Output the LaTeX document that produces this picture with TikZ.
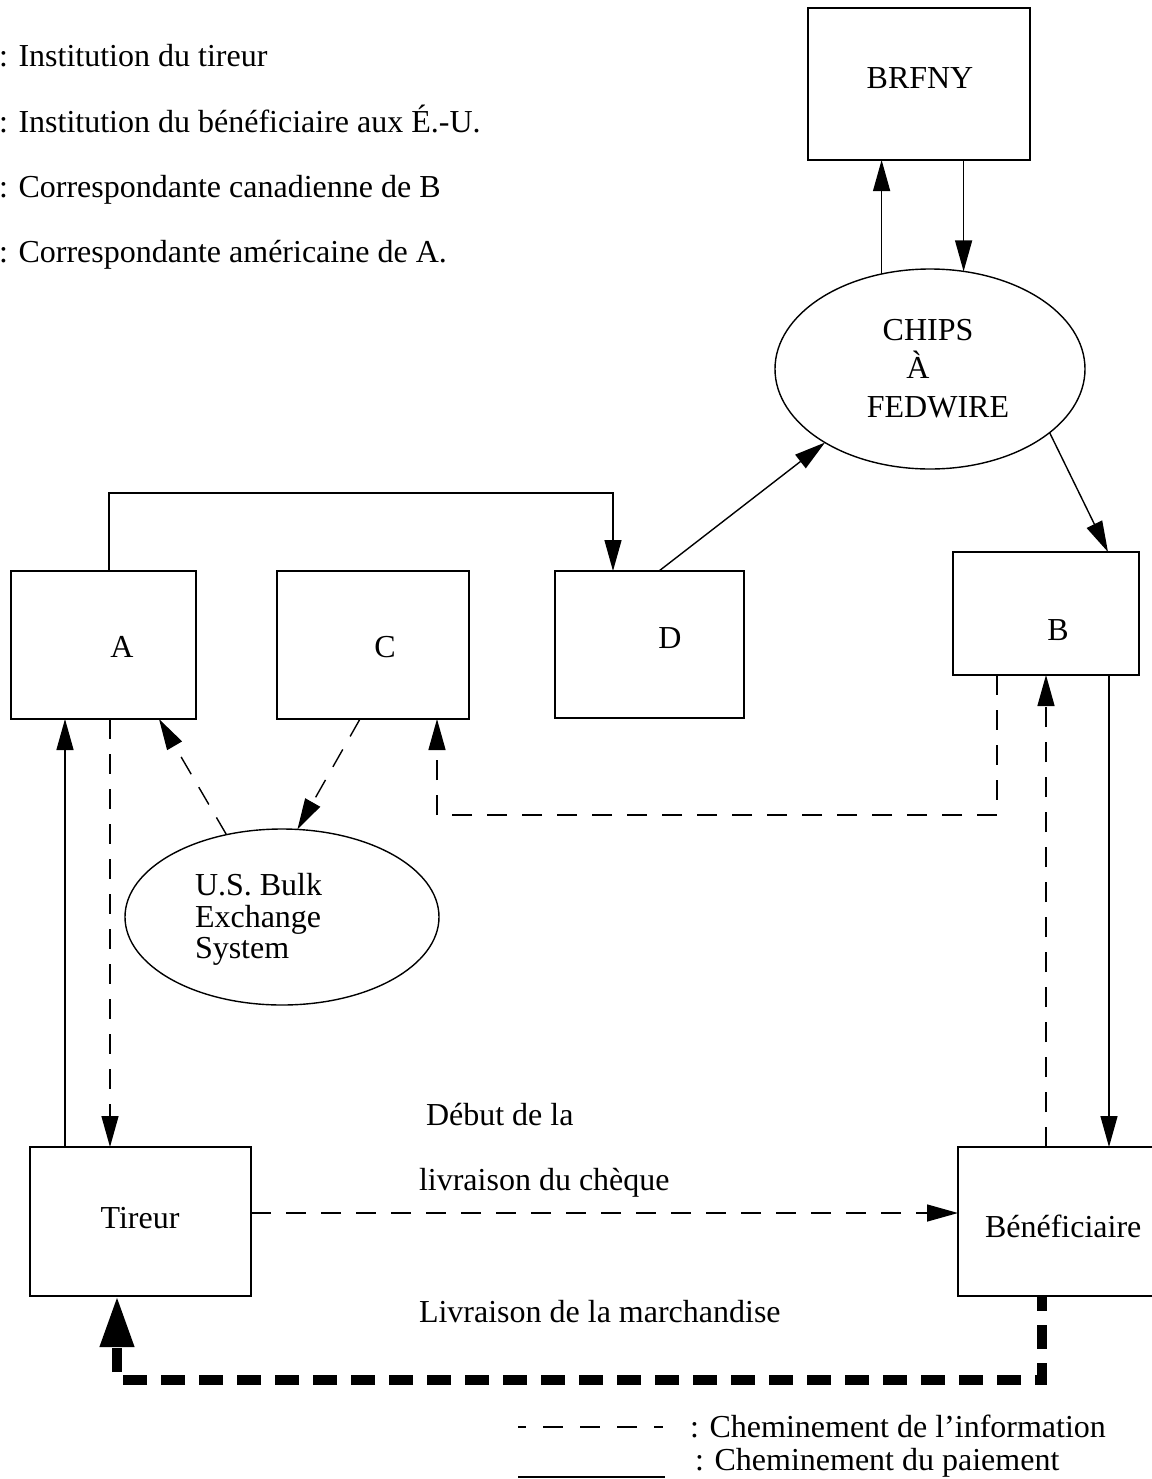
\documentclass[tikz,border=0pt]{standalone}
\usepackage{fontspec}
\setmainfont{Liberation Serif}
\usetikzlibrary{arrows.meta,shapes.geometric,calc}

\begin{document}
\begin{tikzpicture}[x=0.5pt,y=-0.5pt,
  font=\fontsize{16}{19}\selectfont,
  box/.style={draw,line width=0.7pt,rectangle,inner sep=0pt,outer sep=0pt},
  oval/.style={draw,line width=0.7pt,ellipse,inner sep=0pt,outer sep=0pt},
  txt/.style={inner sep=0pt,outer sep=0pt,anchor=base},
  txtl/.style={inner sep=0pt,outer sep=0pt,anchor=base west},
  pay/.style={line width=0.7pt},
  info/.style={line width=0.7pt,dash pattern=on 10pt off 7.5pt},
  tip/.style={-{Triangle[length=15.5pt,width=8.5pt]}},
  goods/.style={line width=5pt,dash pattern=on 12pt off 7pt,dash phase=4.5pt,
                -{Triangle[length=25.5pt,width=16pt]}}
]
\useasboundingbox (0,0) rectangle (1152,1479);

% key of the institutions
\node[txtl] (k1) at (-1,66)  {: Institution du tireur};
\node[txtl] (k2) at (-1,132) {: Institution du bénéficiaire aux É.-U.};
\node[txtl] (k3) at (-1,197) {: Correspondante canadienne de B};
\node[txtl] (k4) at (-1,262) {: Correspondante américaine de A.};

% boxes
\node[box,minimum width=111pt,minimum height=76pt] (BRFNY) at (919,84) {};
\node[txt] (tBRFNY) at (920,88) {BRFNY};
\node[box,minimum width=92.5pt,minimum height=74pt] (A) at (103.5,645) {};
\node[txt] (tA) at (122,657) {A};
\node[box,minimum width=96pt,minimum height=74pt] (C) at (373,645) {};
\node[txt] (tC) at (385,657) {C};
\node[box,minimum width=94.5pt,minimum height=73.5pt] (D) at (649.5,644.5) {};
\node[txt] (tD) at (670,648) {D};
\node[box,minimum width=93pt,minimum height=61.5pt] (B) at (1046,613.5) {};
\node[txt] (tB) at (1058,640) {B};
\node[box,minimum width=110.5pt,minimum height=74.5pt] (Tir) at (140.5,1221.5) {};
\node[txt] (tTir) at (140,1228) {Tireur};
\node[box,minimum width=107pt,minimum height=74.5pt] (Ben) at (1065,1221.5) {};
\node[txtl] (tBen) at (985,1237) {Bénéficiaire};

% ellipses
\node[oval,minimum width=155pt,minimum height=100pt] (CHIPS) at (930,369) {};
\node[txt] (tCHIPS1) at (928,340) {CHIPS};
\node[txt] (tCHIPS2) at (918,378) {À};
\node[txt] (tCHIPS3) at (938,417) {FEDWIRE};
\node[oval,minimum width=157pt,minimum height=88pt] (USB) at (282,917) {};
\node[txtl] (tUSB1) at (195,895) {U.S. Bulk};
\node[txtl] (tUSB2) at (195,927) {Exchange};
\node[txtl] (tUSB3) at (195,958) {System};

% free labels
\node[txtl] (deb) at (426,1125) {Début de la};
\node[txtl] (liv) at (419,1190) {livraison du chèque};
\node[txtl] (mar) at (419,1322) {Livraison de la marchandise};

% payment flow (solid)
\coordinate (aTop) at ($(A.north west)+(98,0)$);
\coordinate (dTop) at ($(D.north west)+(58,0)$);
\draw[pay,tip] (aTop) |- ($(dTop)+(0,-78)$) -- (dTop);
\draw[pay,tip] ($(D.north west)+(104,0)$) -- (CHIPS.215);
\draw[pay,tip] (CHIPS.117.8) -- (CHIPS.117.8 |- BRFNY.south);
\draw[pay,tip] (CHIPS.71.3 |- BRFNY.south) -- (CHIPS.71.3);
\draw[pay,tip] (CHIPS.-28.6) -- ($(B.north west)+(155,0)$);
\coordinate (bDown) at ($(B.south west)+(156,0)$);
\draw[pay,tip] (bDown) -- (bDown |- Ben.north);
\coordinate (tUp) at ($(Tir.north west)+(35,0)$);
\draw[pay,tip] (tUp) -- (tUp |- A.south);

% information flow (dashed)
\coordinate (aDown) at ($(A.south west)+(99,0)$);
\draw[info,tip] (aDown) -- (aDown |- Tir.north);
\draw[info,tip] (USB.124.3) -- ($(A.south west)+(148,0)$);
\draw[info,tip] ($(C.south west)+(83,0)$) -- (USB.80.4);
\draw[info,tip] ($(B.south west)+(44,0)$) |- ($(C.south west)+(160,96)$) -- ($(C.south west)+(160,0)$);
\coordinate (benUp) at ($(Ben.north west)+(88,0)$);
\draw[info,tip] (benUp) -- (benUp |- B.south);
\coordinate (chq) at ($(Tir.north east)+(0,66)$);
\draw[info,tip] (chq) -- (chq -| Ben.west);

% delivery of goods (heavy dashed)
\draw[goods] ($(Ben.south west)+(84,0)$) |- ($(Tir.south west)+(87,84)$) -- ($(Tir.south west)+(87,0)$);

% legend of line styles
\coordinate (li1) at (518,1427);
\coordinate (li2) at (663,1427);
\draw[line width=0.7pt,dash pattern=on 10pt off 8.5pt,dash phase=6pt] (li1) -- (li2);
\node[txtl] (leg1) at (690,1437) {: Cheminement de l’information};
\coordinate (lp1) at (518,1477);
\coordinate (lp2) at (665,1477);
\draw[pay] (lp1) -- (lp2);
\node[txtl] (leg2) at (695,1470) {: Cheminement du paiement};
\end{tikzpicture}
\end{document}
